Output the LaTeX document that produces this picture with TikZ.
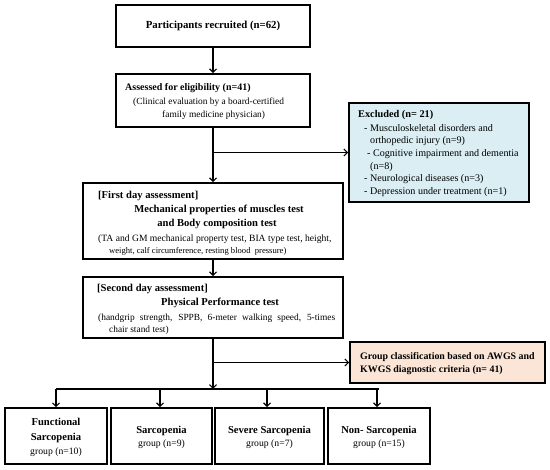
\documentclass[tikz,border=0pt]{standalone}
\usepackage{fontspec}
\setmainfont{Liberation Serif}
\usetikzlibrary{arrows.meta}
\definecolor{exblue}{RGB}{218,238,243}
\definecolor{grpeach}{RGB}{251,229,214}
\tikzset{
  box/.style={draw=black, line width=1.6pt, inner sep=0pt},
  arrow/.style={draw=black, line width=1.2pt, -{Straight Barb[length=3.5pt,width=7pt,line width=1.2pt]}},
  link/.style={draw=black, line width=1.2pt},
  bt/.style={font=\fontsize{10.6}{11}\selectfont\bfseries, inner sep=0pt},
  rt/.style={font=\fontsize{9.4}{10}\selectfont, inner sep=0pt},
  et/.style={font=\fontsize{10.1}{10}\selectfont, inner sep=0pt, anchor=west},
}
\begin{document}
\begin{tikzpicture}[x=1pt,y=-1pt]
\useasboundingbox (0,0) rectangle (550,470);
% boxes
\node[box, minimum width=194pt, minimum height=42pt, bt, font=\fontsize{10.8}{11}\selectfont\bfseries] (b1) at (213,26) {Participants recruited (n=62)};
\node[box, minimum width=194pt, minimum height=53pt] (b2) at (213,100.5) {};
\node[bt, anchor=west, font=\fontsize{10}{11}\selectfont\bfseries] (b2t1) at (125,88) {Assessed for eligibility (n=41)};
\node[rt, anchor=west] (b2t2) at (133,102) {(Clinical evaluation by a board-certified};
\node[rt, anchor=west] (b2t3) at (162,115) {family medicine physician)};

\node[box, fill=exblue, minimum width=180pt, minimum height=99pt] (ex) at (439,152.5) {};
\node[bt, font=\fontsize{10.3}{10}\selectfont\bfseries, anchor=west] (ext0) at (358,115) {Excluded (n= 21)};
\node[et] (ext1) at (364,128) {- Musculoskeletal disorders and};
\node[et] (ext2) at (370,141) {orthopedic injury (n=9)};
\node[et] (ext3) at (367,154) {- Cognitive impairment and dementia};
\node[et] (ext4) at (370,167) {(n=8)};
\node[et] (ext5) at (364,179.5) {- Neurological diseases (n=3)};
\node[et] (ext6) at (364,192) {- Depression under treatment (n=1)};

\node[box, minimum width=260pt, minimum height=76pt] (b3) at (213,221) {};
\node[bt, anchor=west] (b3t1) at (98,196) {[First day assessment]};
\node[bt] (b3t2) at (219,210) {Mechanical properties of muscles test};
\node[bt] (b3t3) at (217,224) {and Body composition test};
\node[rt, anchor=west, font=\fontsize{9.6}{10}\selectfont] (b3t4) at (98,239) {(TA and GM mechanical property test, BIA type test, height,};
\node[rt, anchor=west, font=\fontsize{8.6}{10}\selectfont] (b3t5) at (109,251) {weight, calf circumference, resting blood\ \ pressure)};

\node[box, minimum width=260pt, minimum height=61pt] (b4) at (213,307.5) {};
\node[bt, anchor=west] (b4t1) at (97,289) {[Second day assessment]};
\node[bt] (b4t2) at (220,303) {Physical Performance test};
\node[rt, anchor=west] (b4t3) at (98,318) {\makebox[237pt][s]{(handgrip strength, SPPB, 6-meter walking speed, 5-times}};
\node[rt, anchor=west] (b4t4) at (109,330) {chair stand test)};

\node[box, fill=grpeach, minimum width=195pt, minimum height=41pt] (gr) at (447.5,362.5) {};
\node[bt, anchor=west, align=left, font=\fontsize{9.9}{13}\selectfont\bfseries] (grt) at (360,363.5) {Group classification based on AWGS and\\KWGS diagnostic criteria (n= 41)};

\node[box, minimum width=102pt, minimum height=56pt] (gA) at (56,436) {};
\node[bt, align=center, font=\fontsize{10.6}{14.5}\selectfont\bfseries] (gAt) at (56,430.5) {Functional\\Sarcopenia};
\node[rt, font=\fontsize{9.7}{10}\selectfont] (gAt2) at (56,452) {group (n=10)};
\node[box, minimum width=101pt, minimum height=56pt] (gB) at (161.5,436) {};
\node[bt] (gBt) at (161.5,431) {Sarcopenia};
\node[rt, font=\fontsize{9.7}{10}\selectfont] (gBt2) at (161.5,444) {group (n=9)};
\node[box, minimum width=109pt, minimum height=56pt] (gC) at (269.5,436) {};
\node[bt] (gCt) at (269.5,431) {Severe Sarcopenia};
\node[rt, font=\fontsize{9.7}{10}\selectfont] (gCt2) at (269.5,444) {group (n=7)};
\node[box, minimum width=102pt, minimum height=56pt] (gD) at (379,436) {};
\node[bt] (gDt) at (379,431) {Non- Sarcopenia};
\node[rt, font=\fontsize{9.7}{10}\selectfont] (gDt2) at (379,444) {group (n=15)};

% connectors
\coordinate (j1) at (213,152.5);
\coordinate (j2) at (213,362.5);
\coordinate (bar) at (213,389);
\draw[arrow] (b1.south) -- (b2.north);
\draw[arrow] (b2.south) -- (b3.north);
\draw[arrow] (j1) -- (ex.west);
\draw[arrow] (b3.south) -- (b4.north);
\draw[arrow] (b4.south) -- (bar);
\draw[arrow] (j2) -- (gr.west);
\draw[link] (gA.north |- bar) -- (gD.north |- bar);
\draw[arrow] (gA.north |- bar) -- (gA.north);
\draw[arrow] (160,389) -- (gB.north -| 160,0);
\draw[arrow] (267,389) -- (gC.north -| 267,0);
\draw[arrow] (377,389) -- (gD.north -| 377,0);
\end{tikzpicture}
\end{document}
